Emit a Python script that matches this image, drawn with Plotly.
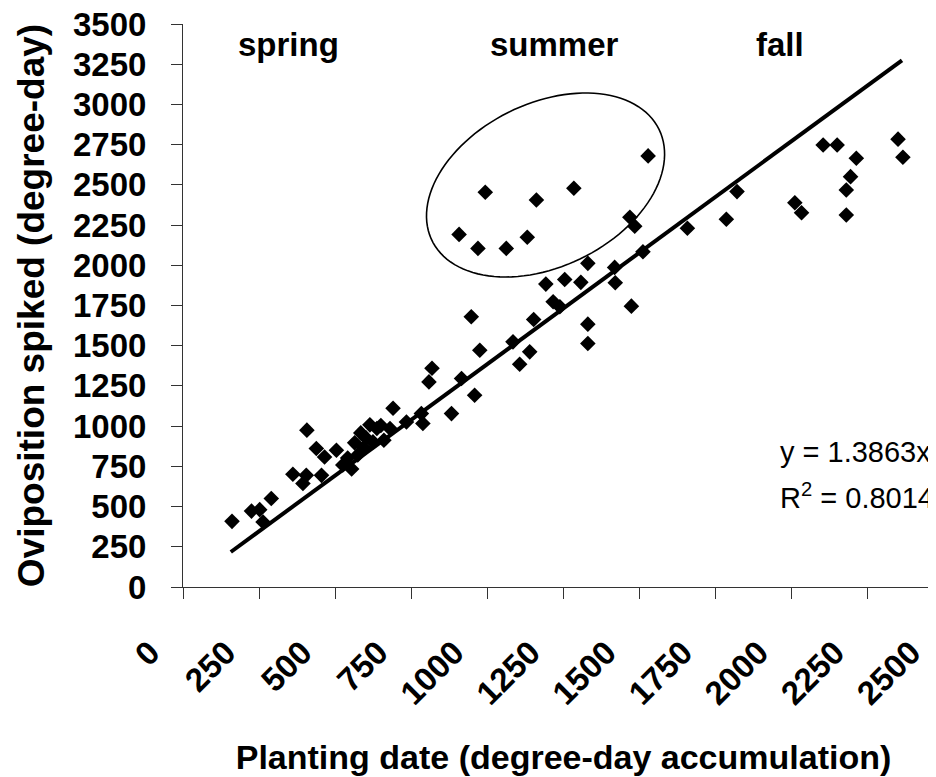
import numpy as np
import plotly.graph_objects as go

# ---------------- data ----------------
planting_dd = [
    161, 225, 252, 263, 290, 361, 394, 405, 455, 407, 438, 465, 504,
    525, 541, 554, 564, 574, 584, 594, 601, 614, 624, 637, 650, 660, 680, 690,
    734, 783, 788,
    808, 818, 882, 915, 958, 947, 975, 1084, 1106, 1139, 1152, 1192, 1216, 1238,
    1254, 1307, 1330, 1330, 1330, 1418, 1420, 1473, 1511,
    907, 969, 993, 1062, 1131, 1161, 1284, 1468, 1484, 1528,
    1657, 1785, 1820, 2010, 2032, 2103, 2149, 2179, 2179, 2193, 2212, 2349, 2365,
]
oviposition_dd = [
    408, 472, 481, 404, 550, 701, 643, 694, 694, 975, 861, 808, 850,
    758, 802, 734, 896, 821, 958, 865, 927, 1008, 902, 985, 1004, 912, 985, 1111,
    1026, 1078, 1016,
    1275, 1360, 1078, 1296, 1192, 1680, 1472, 1524, 1385, 1462, 1663, 1883, 1773, 1742,
    1912, 1894, 2012, 1634, 1514, 1987, 1891, 1746, 2084,
    2192, 2105, 2454, 2105, 2174, 2406, 2479, 2299, 2243, 2680,
    2230, 2286, 2458, 2389, 2327, 2748, 2748, 2468, 2313, 2551, 2665, 2784, 2672,
]

trend_slope = 1.3863
trend_r2 = 0.8014
trend_x = [157, 2362]

x_ticks = [0, 250, 500, 750, 1000, 1250, 1500, 1750, 2000, 2250, 2500]
y_ticks = [0, 250, 500, 750, 1000, 1250, 1500, 1750, 2000, 2250, 2500, 2750, 3000, 3250, 3500]

season_labels = ["spring", "summer", "fall"]
season_x = [345, 1220, 1960]

X_MAX = 2500
Y_MAX = 3500

# ---------------- layout geometry ----------------
W, H = 936, 777
ML, MR, MT, MB = 175, 0, 16, 198
PW, PH = W - ML - MR, H - MT - MB
px_x = PW / X_MAX
px_y = PH / Y_MAX

FONT = "Liberation Sans, Arial, Helvetica, sans-serif"

fig = go.Figure()

fig.add_trace(go.Scatter(
    x=planting_dd, y=oviposition_dd, mode="markers",
    marker=dict(symbol="diamond", size=12, color="black", line=dict(width=0)),
    showlegend=False, hoverinfo="x+y",
))

trend_y = [trend_slope * v for v in trend_x]
fig.add_trace(go.Scatter(
    x=trend_x, y=trend_y, mode="lines",
    line=dict(color="black", width=4), showlegend=False, hoverinfo="skip",
))

# ellipse around the summer group
ell_cx, ell_cy = 1191, 2499
ell_a, ell_b, ell_ang = 126.4, 81.6, np.deg2rad(26.1)
t = np.linspace(0, 2 * np.pi, 120)
dxp = ell_a * np.cos(t) * np.cos(ell_ang) - ell_b * np.sin(t) * np.sin(ell_ang)
dyp = ell_a * np.cos(t) * np.sin(ell_ang) + ell_b * np.sin(t) * np.cos(ell_ang)
ex = ell_cx + dxp / px_x
ey = ell_cy + dyp / px_y
path = "M " + " L ".join(f"{a:.2f},{b:.2f}" for a, b in zip(ex, ey)) + " Z"
fig.add_shape(type="path", path=path, xref="x", yref="y",
              line=dict(color="black", width=1.6), fillcolor="rgba(0,0,0,0)")

for lab, sx in zip(season_labels, season_x):
    fig.add_annotation(x=sx, y=3370, xref="x", yref="y", text=lab, showarrow=False,
                       font=dict(family=FONT, size=33, color="black", weight="bold"),
                       xanchor="center", yanchor="middle")

fig.add_annotation(x=1955, y=838, xref="x", yref="y", text=f"y = {trend_slope}x",
                   showarrow=False, xanchor="left", yanchor="middle",
                   font=dict(family=FONT, size=29, color="black"))
fig.add_annotation(x=1955, y=565, xref="x", yref="y",
                   text=f"R<sup>2</sup> = {trend_r2}",
                   showarrow=False, xanchor="left", yanchor="middle",
                   font=dict(family=FONT, size=29, color="black"))

tickfont = dict(family=FONT, size=33, color="black", weight="bold")

fig.update_layout(
    template="none",
    width=W, height=H,
    margin=dict(l=ML, r=MR, t=MT, b=MB, pad=0),
    paper_bgcolor="white", plot_bgcolor="white",
    showlegend=False,
    xaxis=dict(
        range=[0, X_MAX], tickmode="array", tickvals=x_ticks,
        ticktext=[str(v) for v in x_ticks],
        ticks="outside", ticklen=11, tickwidth=1, tickcolor="#333",
        tickangle=-45, tickfont=tickfont, ticklabelshift=-33, ticklabelstandoff=21,
        ticklabeloverflow="allow",
        showline=True, linecolor="#333", linewidth=1,
        showgrid=False, zeroline=False, automargin=False,
        title=dict(text="Planting date (degree-day accumulation)",
                   font=dict(family=FONT, size=34, color="black", weight="bold"),
                   standoff=34),
    ),
    yaxis=dict(
        range=[0, Y_MAX], tickmode="array", tickvals=y_ticks,
        ticks="outside", ticklen=11, tickwidth=1, tickcolor="#333",
        showline=True, linecolor="#333", linewidth=1,
        showgrid=False, zeroline=False, automargin=False,
        tickfont=tickfont, ticklabelstandoff=18, ticklabeloverflow="allow",
        title=dict(text="Oviposition spiked (degree-day)",
                   font=dict(family=FONT, size=37, color="black", weight="bold"),
                   standoff=17),
    ),
)

fig.write_html("out.html")
